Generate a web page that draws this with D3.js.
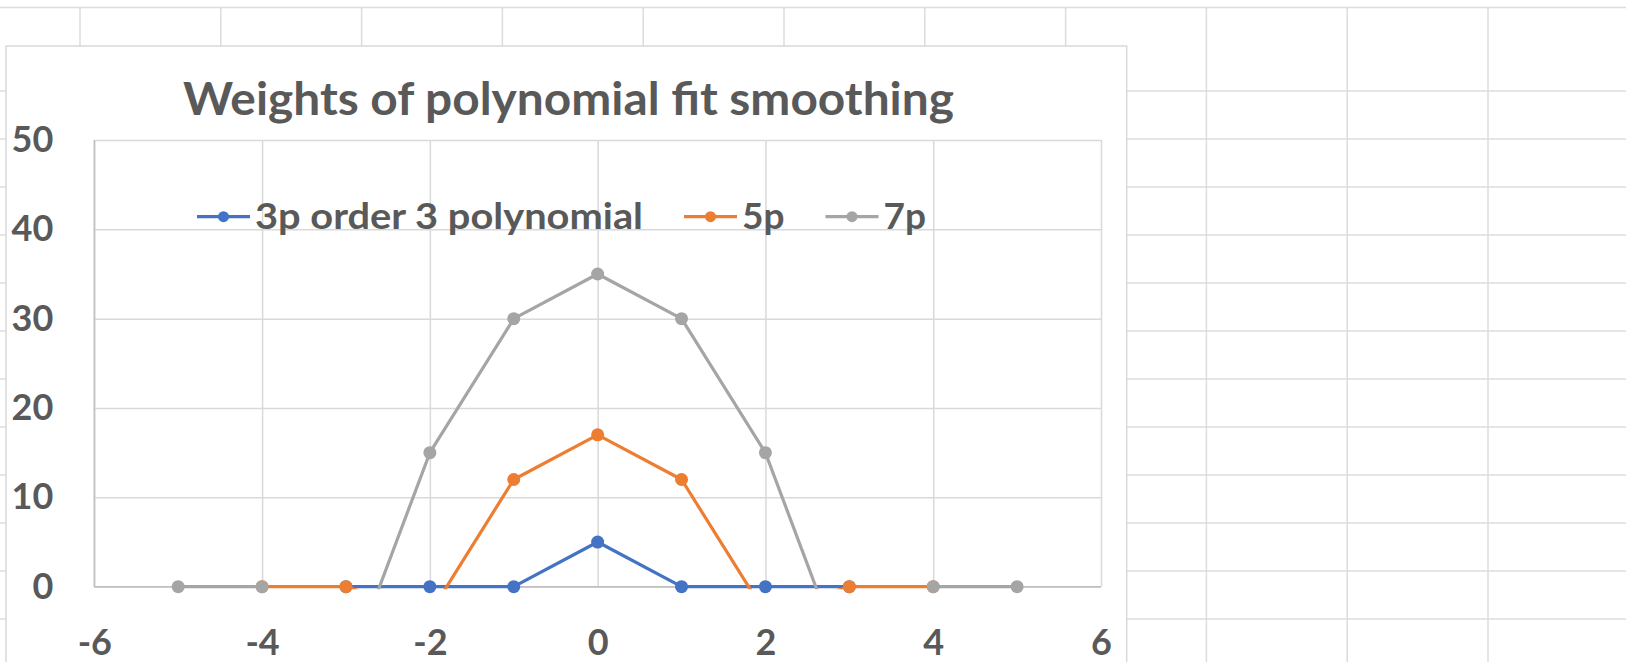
<!DOCTYPE html>
<html>
<head>
<meta charset="utf-8">
<script src="https://cdn.jsdelivr.net/npm/d3@7"></script>
<style>
  html, body { margin: 0; padding: 0; background: #ffffff; }
  svg { display: block; }
  text { font-family: Lato, "Open Sans", sans-serif; font-weight: bold; fill: #595959; }
</style>
</head>
<body>
<svg id="chart" width="1626" height="662"></svg>
<script>
// Smoothing weights for each window, indexed by offset from the centre point
const seriesNames = ["3p order 3 polynomial", "5p", "7p"];
const seriesColors = ["#4472C4", "#ED7D31", "#A5A5A5"];
const xs3 = [-3, -2, -1, 0, 1, 2, 3];
const ys3 = [0, 0, 0, 5, 0, 0, 0];
const xs5 = [-4, -3, -2, -1, 0, 1, 2, 3, 4];
const ys5 = [0, 0, -3, 12, 17, 12, -3, 0, 0];
const xs7 = [-5, -4, -3, -2, -1, 0, 1, 2, 3, 4, 5];
const ys7 = [0, 0, -10, 15, 30, 35, 30, 15, -10, 0, 0];
const xTicks = [-6, -4, -2, 0, 2, 4, 6];
const yTicks = [0, 10, 20, 30, 40, 50];
const chartTitle = "Weights of polynomial fit smoothing";

const W = 1626, H = 662;
const svg = d3.select("#chart");

// ---- worksheet cell grid behind the chart object ----
const sheet = svg.append("g").attr("stroke", "#dcdcdc").attr("stroke-width", 1.5);
const colX = d3.range(80, W, 140.8);
const rowY = [7.5].concat(d3.range(91, H + 1, 48));
sheet.selectAll("line.col").data(colX).join("line")
  .attr("x1", d => d).attr("x2", d => d).attr("y1", 7.5).attr("y2", H);
sheet.selectAll("line.row").data(rowY).join("line")
  .attr("x1", 0).attr("x2", W).attr("y1", d => d).attr("y2", d => d);

// ---- chart object frame ----
const box = { x: 6, y: 46, w: 1120.7, h: 700 };
svg.append("rect")
  .attr("x", box.x).attr("y", box.y).attr("width", box.w).attr("height", box.h)
  .attr("fill", "#ffffff").attr("stroke", "#d9d9d9").attr("stroke-width", 1.5);

// ---- plot area ----
const plot = { left: 94.3, right: 1101, top: 140, bottom: 586.7 };
const x = d3.scaleLinear().domain([-6, 6]).range([plot.left, plot.right]);
const y = d3.scaleLinear().domain([0, 50]).range([plot.bottom, plot.top]);
const plainNumber = d => String(d);   // hyphen-minus, as the spreadsheet shows

// gridlines
const grid = svg.append("g");
grid.append("g")
  .attr("transform", `translate(0,${plot.bottom})`)
  .call(d3.axisBottom(x).tickValues(xTicks).tickFormat("").tickSize(-(plot.bottom - plot.top)))
  .call(g => g.select(".domain").remove())
  .call(g => g.selectAll("line").attr("stroke", "#d9d9d9").attr("stroke-width", 1.5));
grid.append("g")
  .attr("transform", `translate(${plot.left},0)`)
  .call(d3.axisLeft(y).tickValues(yTicks).tickFormat("").tickSize(-(plot.right - plot.left)))
  .call(g => g.select(".domain").remove())
  .call(g => g.selectAll("line").attr("stroke", "#d9d9d9").attr("stroke-width", 1.5));

// axis lines
svg.append("line")
  .attr("x1", plot.left).attr("x2", plot.left).attr("y1", plot.top).attr("y2", plot.bottom)
  .attr("stroke", "#bfbfbf").attr("stroke-width", 1.5);
svg.append("line")
  .attr("x1", plot.left).attr("x2", plot.right).attr("y1", plot.bottom).attr("y2", plot.bottom)
  .attr("stroke", "#bfbfbf").attr("stroke-width", 1.5);

// tick labels
const yAxis = svg.append("g")
  .attr("transform", `translate(${plot.left},0)`)
  .call(d3.axisLeft(y).tickValues(yTicks).tickFormat(plainNumber).tickSize(0).tickPadding(41));
yAxis.select(".domain").remove();
yAxis.selectAll("text").attr("font-size", 36).attr("fill", "#595959")
  .style("font-family", "Lato, sans-serif").style("font-weight", "bold");

const xAxis = svg.append("g")
  .attr("transform", `translate(0,${plot.bottom})`)
  .call(d3.axisBottom(x).tickValues(xTicks).tickFormat(plainNumber).tickSize(0).tickPadding(43));
xAxis.select(".domain").remove();
xAxis.selectAll("text").attr("font-size", 36).attr("fill", "#595959")
  .style("font-family", "Lato, sans-serif").style("font-weight", "bold");

// ---- series ----
svg.append("clipPath").attr("id", "plotClip")
  .append("rect")
  .attr("x", plot.left).attr("y", plot.top - 4)
  .attr("width", plot.right - plot.left).attr("height", plot.bottom - plot.top + 6.5);

const series = [
  { name: seriesNames[0], color: seriesColors[0], pts: xs3.map((v, i) => [v, ys3[i]]) },
  { name: seriesNames[1], color: seriesColors[1], pts: xs5.map((v, i) => [v, ys5[i]]) },
  { name: seriesNames[2], color: seriesColors[2], pts: xs7.map((v, i) => [v, ys7[i]]) }
];

const line = d3.line().x(d => x(d[0])).y(d => y(d[1]));
const [yMin, yMax] = y.domain();

series.forEach(s => {
  const g = svg.append("g");
  g.append("path")
    .attr("d", line(s.pts))
    .attr("fill", "none")
    .attr("stroke", s.color)
    .attr("stroke-width", 3.2)
    .attr("stroke-linejoin", "round")
    .attr("clip-path", "url(#plotClip)");
  // points outside the value axis range are not shown
  g.selectAll("circle")
    .data(s.pts.filter(d => d[1] >= yMin && d[1] <= yMax))
    .join("circle")
    .attr("cx", d => x(d[0])).attr("cy", d => y(d[1]))
    .attr("r", 6.5)
    .attr("fill", s.color);
});

// ---- title ----
svg.append("text")
  .attr("x", 568.5).attr("y", 115)
  .attr("text-anchor", "middle")
  .attr("font-size", 46)
  .attr("textLength", 771).attr("lengthAdjust", "spacingAndGlyphs")
  .text(chartTitle);

// ---- legend ----
const legend = svg.append("g").attr("transform", "translate(197,216.7)");
const labelWidths = [388, null, null];
let lx = 0;
series.forEach((s, i) => {
  const item = legend.append("g").attr("transform", `translate(${lx},0)`);
  item.append("line").attr("x1", 0).attr("x2", 53).attr("y1", 0).attr("y2", 0)
    .attr("stroke", s.color).attr("stroke-width", 3.2);
  item.append("circle").attr("cx", 26.5).attr("cy", 0).attr("r", 5.5).attr("fill", s.color);
  const t = item.append("text").attr("x", 58).attr("y", 12.5)
    .attr("font-size", 37).text(s.name);
  if (labelWidths[i]) t.attr("textLength", labelWidths[i]).attr("lengthAdjust", "spacingAndGlyphs");
  const tw = labelWidths[i] || t.node().getComputedTextLength();
  lx += 58 + tw + 41;
});
</script>
</body>
</html>
